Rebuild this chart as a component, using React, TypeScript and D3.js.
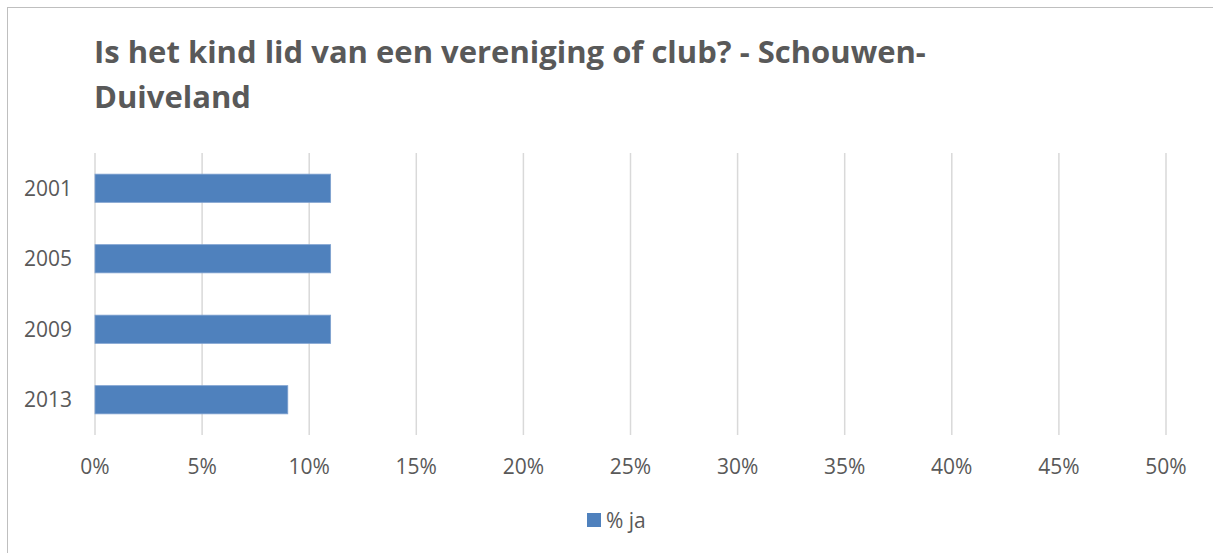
import React from "react";
import * as d3 from "d3";

const years = ["2001", "2005", "2009", "2013"];
const valuesJa = [11, 11, 11, 9];
const xTicks = [0, 5, 10, 15, 20, 25, 30, 35, 40, 45, 50];
const titleLines = ["Is het kind lid van een vereniging of club? - Schouwen-", "Duiveland"];
const seriesName = "% ja";

export default function App() {
  const W = 1213, H = 553;
  const left = 95, right = 1166, top = 153, bottom = 435;
  const x = d3.scaleLinear().domain([0, 50]).range([left, right]);
  const y = d3.scaleBand().domain(years).range([top, bottom]).paddingInner(0.6).paddingOuter(0.3);
  const font = "'Open Sans', 'Noto Sans', sans-serif";
  return (
    <svg width={W} height={H} style={{ position: "absolute", left: 0, top: 0, background: "#fff" }}>
      <rect x={7.5} y={7.5} width={W + 10} height={H + 10} fill="#fff" stroke="#bfbfbf" strokeWidth={1} />
      {titleLines.map((t, i) => (
        <text key={i} x={94} y={63 + i * 45} fontFamily={font} fontSize={31} fontWeight={700} fill="#595959">{t}</text>
      ))}
      {xTicks.map((t) => (
        <g key={t}>
          <line x1={x(t)} x2={x(t)} y1={top} y2={bottom} stroke="#d9d9d9" strokeWidth={1.5} />
          <text x={x(t)} y={474} textAnchor="middle" fontFamily={font} fontSize={21} fill="#595959">{t}%</text>
        </g>
      ))}
      {years.map((yr, i) => (
        <g key={yr}>
          <rect x={x(0)} y={y(yr)!} width={x(valuesJa[i]) - x(0)} height={y.bandwidth()} fill="#4f81bd" stroke="#7ea1cf" strokeWidth={0.8} />
          <text x={72} y={y(yr)! + y.bandwidth() / 2} dy="0.36em" textAnchor="end" fontFamily={font} fontSize={21} fill="#595959">{yr}</text>
        </g>
      ))}
      <rect x={587} y={513} width={14} height={14} fill="#4f81bd" />
      <text x={606} y={528} fontFamily={font} fontSize={21} fill="#595959">{seriesName}</text>
    </svg>
  );
}
